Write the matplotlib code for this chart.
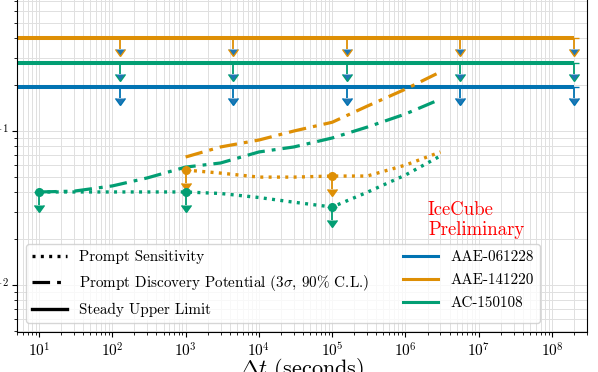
import matplotlib
matplotlib.use("Agg")
import matplotlib.pyplot as plt
from matplotlib.lines import Line2D
import numpy as np

plt.rcParams['font.family'] = 'serif'
plt.rcParams['font.serif'] = ['cmr10', 'DejaVu Serif']
plt.rcParams['mathtext.fontset'] = 'cm'
plt.rcParams['axes.formatter.use_mathtext'] = True
plt.rcParams['axes.unicode_minus'] = True

sources = ['AAE-061228', 'AAE-141220', 'AC-150108']
colors = ['#0173b2', '#de8f05', '#029e73']

# steady upper limits (flat in time)
steady_limit = [0.193, 0.402, 0.277]
steady_t = [1, 2e8]
steady_arrow_t = [127, 4.4e3, 1.6e5, 5.5e6, 2e8]

# prompt sensitivity / discovery potential vs time window
dt = [10, 30, 100, 300, 1e3, 3e3, 1e4, 3e4, 1e5, 3e5, 1e6, 3e6]
dt_orange = [1e3, 3e3, 1e4, 3e4, 1e5, 3e5, 1e6, 3e6]

sens_green = [0.0402, 0.0402, 0.0402, 0.0402, 0.0402, 0.0393, 0.0370, 0.0345,
              0.0321, 0.0400, 0.0518, 0.0689]
disc_green = [0.0402, 0.0407, 0.0440, 0.0496, 0.0583, 0.0620, 0.0731, 0.0788,
              0.0901, 0.106, 0.129, 0.161]
sens_orange = [0.0558, 0.0533, 0.0502, 0.0502, 0.0510, 0.0510, 0.0601, 0.0731]
disc_orange = [0.0678, 0.0788, 0.0874, 0.100, 0.114, 0.145, 0.187, 0.242]

# observed upper limits at selected time windows
ul_green_t = [10, 1e3, 1e5]
ul_green = [0.0402, 0.0402, 0.0321]
ul_orange_t = [1e3, 1e5]
ul_orange = [0.0558, 0.0510]

fig = plt.figure(figsize=(5.98, 3.72), dpi=100)
ax = fig.add_axes([17 / 598, 40 / 372, 570 / 598, 355 / 372])

for c, y in zip(colors, steady_limit):
    ax.plot(steady_t, [y, y], color=c, lw=2.9, solid_capstyle='butt')
    ya = np.full(len(steady_arrow_t), y)
    ax.errorbar(steady_arrow_t, ya, yerr=0.15 * ya, uplims=True, fmt='none',
                ecolor=c, elinewidth=1.3, capsize=3.5)

dd = (0, (5.5, 2.2, 1.2, 2.2))
ax.plot(dt, disc_green, color=colors[2], lw=2.3, linestyle=dd)
ax.plot(dt_orange, disc_orange, color=colors[1], lw=2.3, linestyle=dd)
ax.plot(dt, sens_green, color=colors[2], lw=2.4, linestyle=(0, (0.9, 1.6)))
ax.plot(dt_orange, sens_orange, color=colors[1], lw=2.4, linestyle=(0, (0.9, 1.6)))

for t, y, c in [(ul_green_t, ul_green, colors[2]), (ul_orange_t, ul_orange, colors[1])]:
    y = np.array(y)
    ax.errorbar(t, y, yerr=0.18 * y, uplims=True, fmt='o', color=c, ms=5.5,
                elinewidth=1.3, capsize=3.5)

ax.set_xscale('log')
ax.set_yscale('log')
ax.set_xlim(5, 3e8)
ax.set_ylim(10 ** -2.305, 1)
ax.grid(True, which='both', color='0.88', lw=0.7)
ax.set_axisbelow(True)
ax.tick_params(labelsize=11)
ax.tick_params(axis='y', pad=2.5)
ax.set_xlabel(r'$\Delta t$ (seconds)', fontsize=16, labelpad=-3)

ax.text(0.721, 0.368, 'IceCube\nPreliminary', color='red', fontsize=13.5,
        transform=ax.transAxes, va='top', ha='left', linespacing=1.1)

handles = [
    Line2D([], [], color='k', lw=2.4, linestyle=(0, (0.9, 1.6))),
    Line2D([], [], color='k', lw=2.3, linestyle=dd),
    Line2D([], [], color='k', lw=2.4),
]
labels = ['Prompt Sensitivity',
          r'Prompt Discovery Potential ($3\sigma$, 90% C.L.)',
          'Steady Upper Limit']
for c, s in zip(colors, sources):
    handles.append(Line2D([], [], color=c, lw=2.2))
    labels.append(s)

ax.legend(handles, labels, ncol=2, loc='lower left', bbox_to_anchor=(0.016, 0.025),
          borderaxespad=0, fontsize=10.9, columnspacing=2.25, handlelength=2.3,
          labelspacing=0.62)

fig.savefig('out.png', dpi=100)
